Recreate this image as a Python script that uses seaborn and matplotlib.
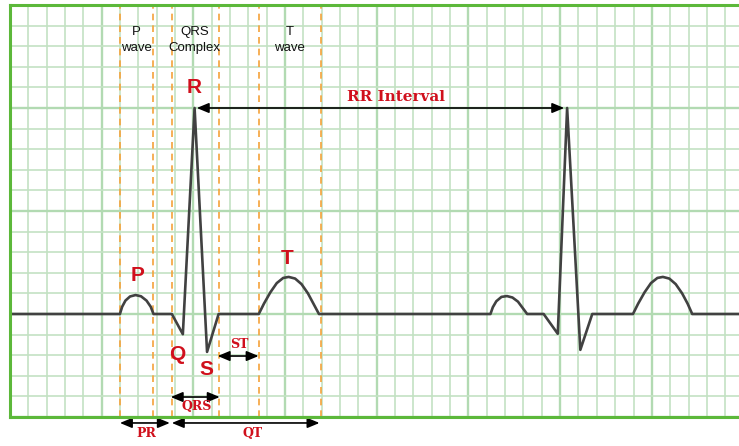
import numpy as np
import pandas as pd
import matplotlib
matplotlib.use("Agg")
import matplotlib.pyplot as plt
import seaborn as sns

# ---------------- data (units = small ECG grid squares) ----------------
ecg_x = [0.0,
         6.0, 6.12, 6.3, 6.55, 6.85, 7.15, 7.45, 7.68, 7.83,
         8.83, 9.43, 10.07, 10.75, 11.38,
         13.57, 13.85, 14.2, 14.55, 14.9, 15.2, 15.55, 15.9, 16.25, 16.55, 16.85,
         26.2, 26.33, 26.52, 26.8, 27.1, 27.4, 27.7, 27.95, 28.2,
         29.1, 29.87, 30.38, 31.1, 31.75,
         33.97, 34.25, 34.6, 34.95, 35.3, 35.6, 35.95, 36.3, 36.65, 36.95, 37.2,
         39.8]
ecg_y = [0.0,
         0.0, 0.35, 0.65, 0.85, 0.92, 0.86, 0.65, 0.35, 0.0,
         0.0, -0.98, 10.0, -1.84, 0.0,
         0.0, 0.5, 1.05, 1.5, 1.75, 1.8, 1.72, 1.45, 1.0, 0.5, 0.0,
         0.0, 0.33, 0.62, 0.83, 0.87, 0.8, 0.6, 0.3, 0.0,
         0.0, -0.96, 10.0, -1.74, 0.0,
         0.0, 0.5, 1.05, 1.5, 1.75, 1.8, 1.72, 1.45, 1.0, 0.5, 0.0,
         0.0]

boundary_x = [6.0, 7.83, 8.83, 11.38, 13.57, 16.94]

header_labels = ["P\nwave", "QRS\nComplex", "T\nwave"]
header_x = [6.92, 10.08, 15.25]
header_y = 13.3

wave_labels = ["P", "Q", "R", "S", "T"]
wave_lx = [6.97, 9.15, 10.03, 10.73, 15.14]
wave_ly = [1.89, -1.99, 11.0, -2.67, 2.67]

interval_labels = ["RR Interval", "ST", "QRS", "PR", "QT"]
interval_start = [10.19, 11.33, 8.77, 6.0, 8.83]
interval_end = [30.22, 13.56, 11.44, 8.72, 16.88]
interval_arrow_y = [10.0, -2.04, -4.03, -5.29, -5.29]
interval_lx = [21.07, 12.53, 10.2, 7.46, 13.23]
interval_ly = [10.53, -1.46, -4.5, -5.78, -5.78]
interval_size = [11, 9, 9, 9, 9]

# ---------------- figure ----------------
sns.set_theme(style="white")
plt.rcParams["font.family"] = ["Liberation Sans", "DejaVu Sans"]

fig = plt.figure(figsize=(7.39, 4.46), dpi=100)
ax = fig.add_axes([9.87 / 739, 29 / 446, 1 - 9.87 / 739, 412 / 446])
ax.set_xlim(0, 39.75)
ax.set_ylim(-5, 15)

minor_col = "#c3e2c3"
major_col = "#b2dab2"
for gx in np.arange(0, 40, 1):
    ax.axvline(gx, color=major_col if gx % 5 == 0 else minor_col,
               lw=1.7 if gx % 5 == 0 else 1.2, zorder=0)
for gy in np.arange(-5, 16, 1):
    ax.axhline(gy, color=major_col if gy % 5 == 0 else minor_col,
               lw=1.7 if gy % 5 == 0 else 1.2, zorder=0)

for bx in boundary_x:
    ax.axvline(bx, color="#f5a23a", lw=1.2, ls=(0, (4, 3)), zorder=1)

df = pd.DataFrame({"x": ecg_x, "y": ecg_y})
sns.lineplot(data=df, x="x", y="y", sort=False, estimator=None,
             color="#414141", lw=1.9, ax=ax, zorder=3)

red = "#d0101c"
for lab, lx in zip(header_labels, header_x):
    ax.text(lx, header_y, lab, ha="center", va="center", fontsize=9.5,
            color="#111111", linespacing=1.45, zorder=4)

for lab, lx, ly in zip(wave_labels, wave_lx, wave_ly):
    ax.text(lx, ly, lab, ha="center", va="center", fontsize=15,
            fontweight="bold", color=red, zorder=4)

for lab, s, e, ay, lx, ly, fs in zip(interval_labels, interval_start, interval_end,
                                      interval_arrow_y, interval_lx, interval_ly,
                                      interval_size):
    ax.annotate("", xy=(e, ay), xytext=(s, ay), annotation_clip=False,
                arrowprops=dict(arrowstyle="<|-|>,head_length=0.6,head_width=0.25",
                                color="black", lw=1.2, shrinkA=0, shrinkB=0),
                zorder=5)
    ax.text(lx, ly, lab, ha="center", va="center", fontsize=fs,
            fontweight="bold", color=red, family="DejaVu Serif",
            clip_on=False, zorder=5)

ax.set_xticks([])
ax.set_yticks([])
ax.set_xlabel("")
ax.set_ylabel("")
for side in ["left", "top", "bottom"]:
    ax.spines[side].set_color("#5cb83a")
    ax.spines[side].set_linewidth(2.2)
    ax.spines[side].set_zorder(6)
ax.spines["right"].set_visible(False)

fig.savefig("out.png", dpi=100, facecolor="white")
